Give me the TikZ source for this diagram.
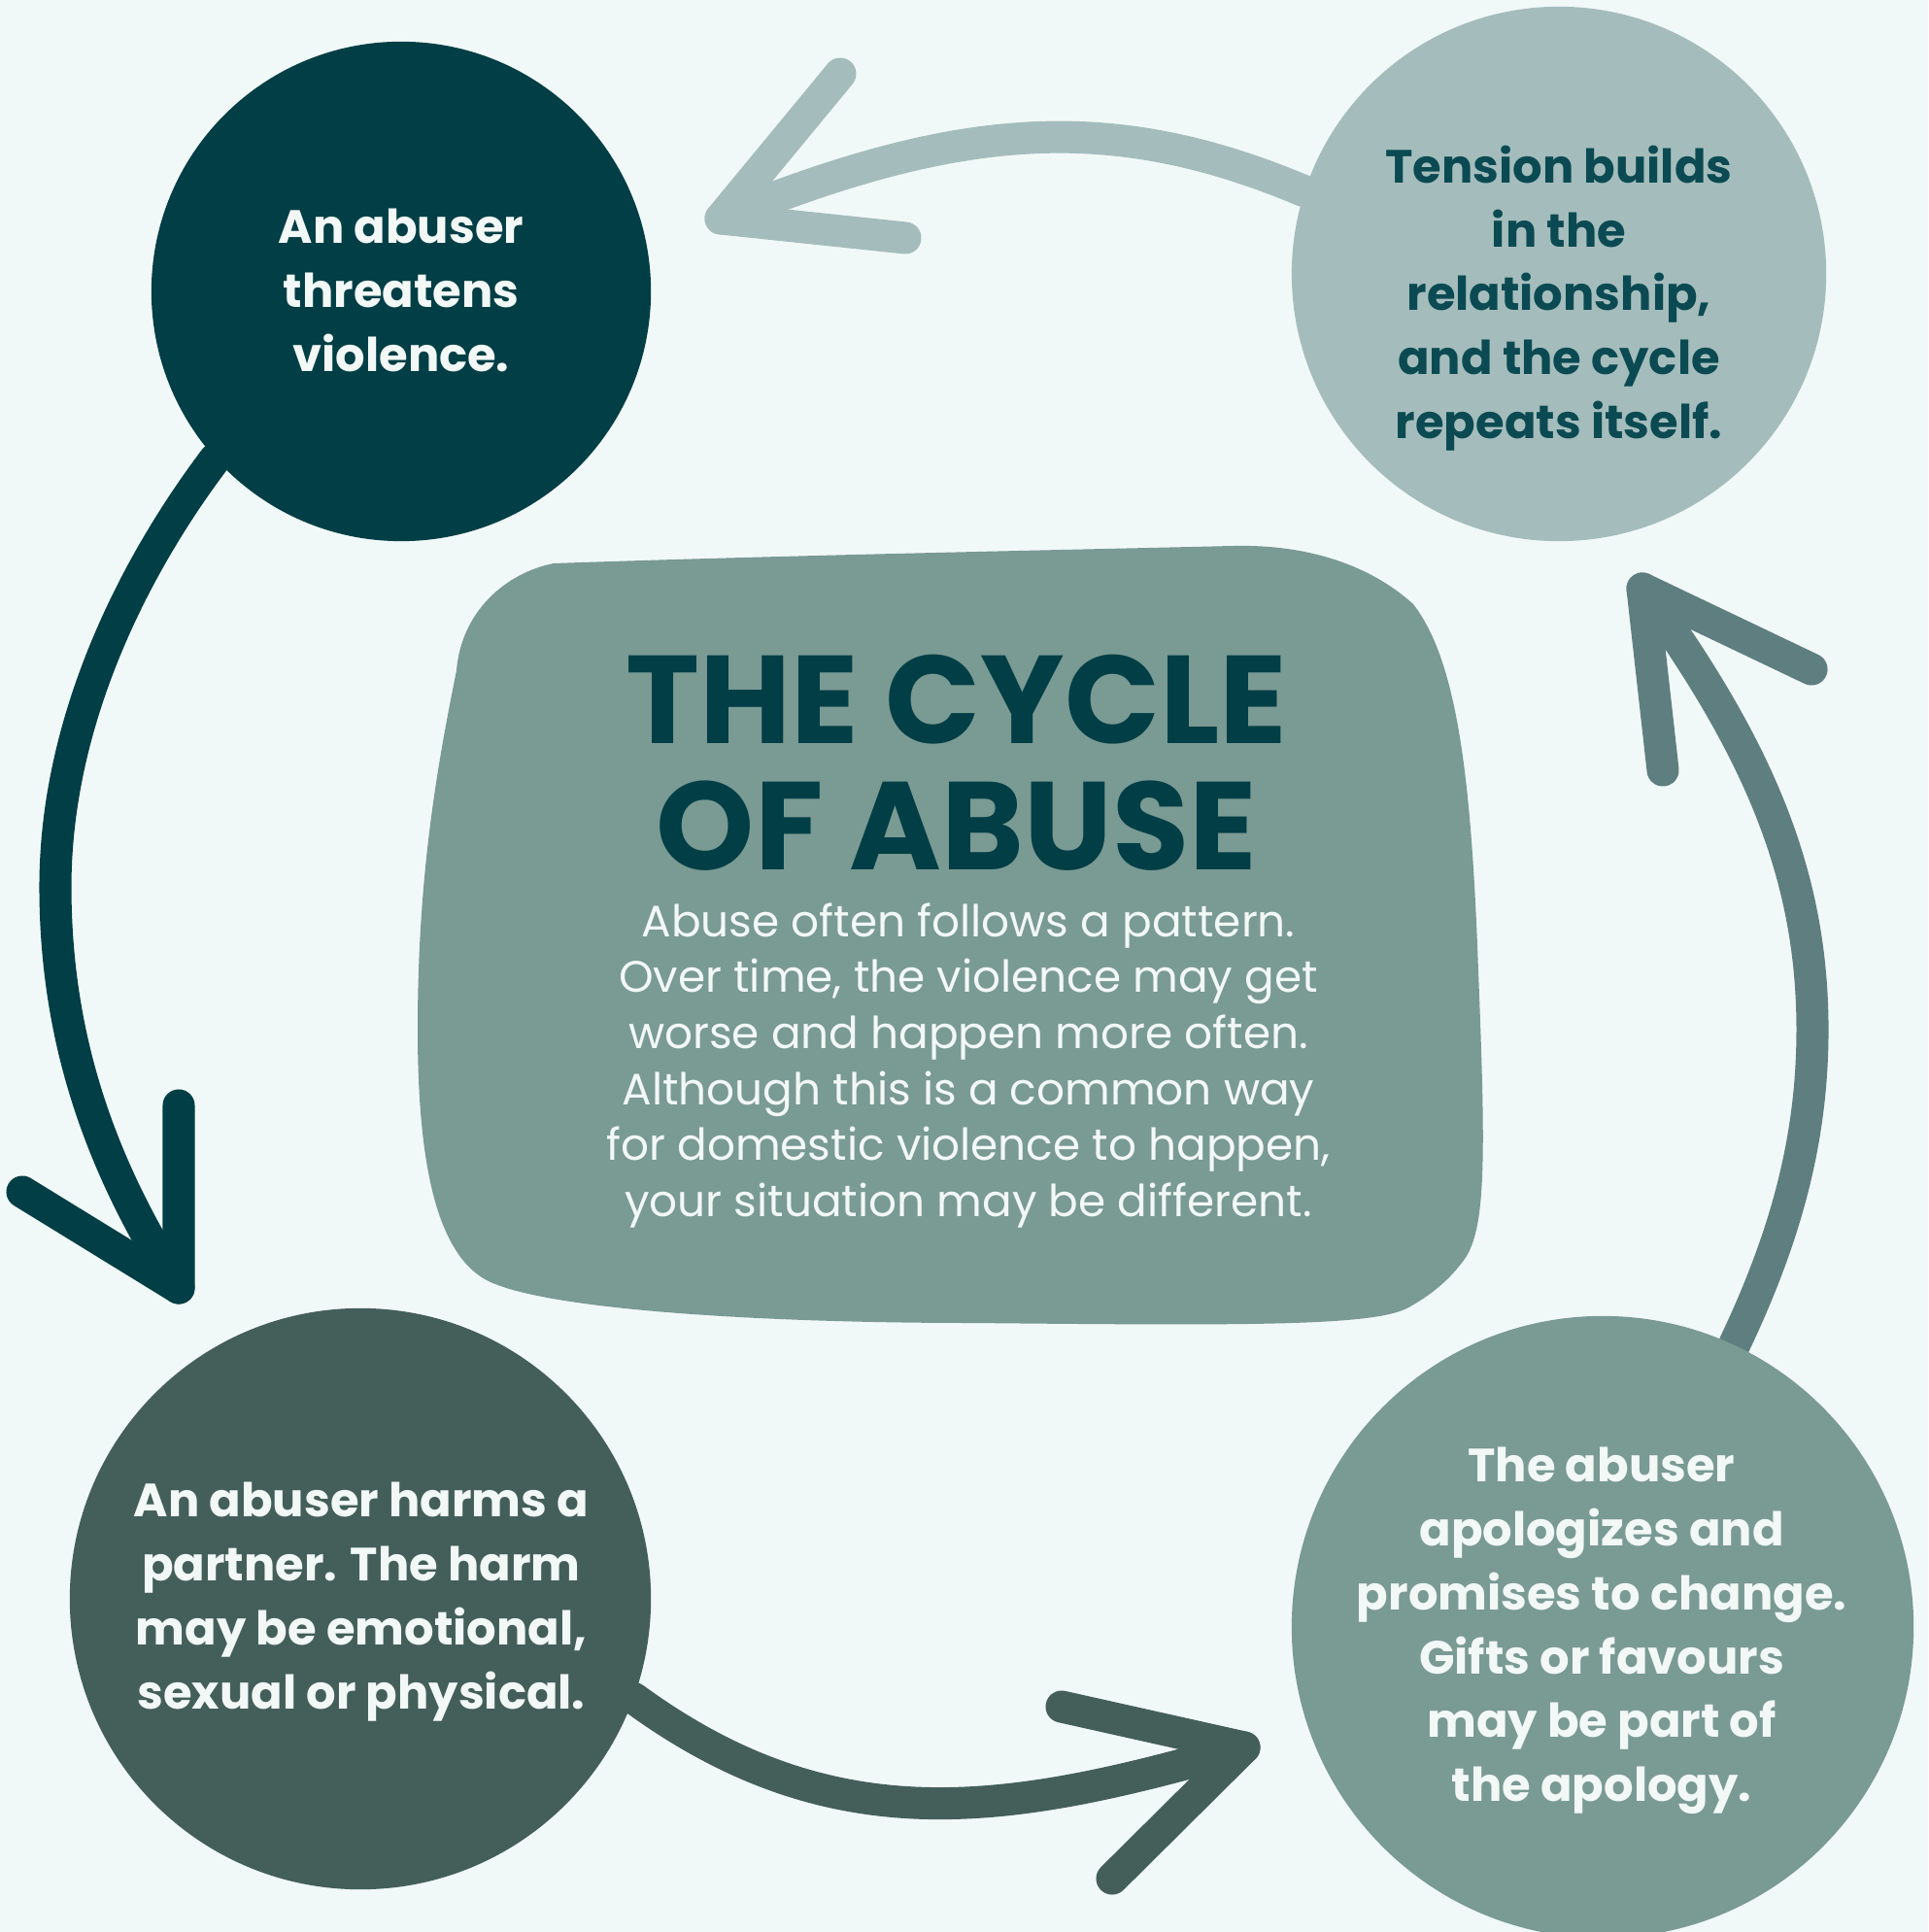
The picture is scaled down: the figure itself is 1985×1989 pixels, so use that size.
\documentclass[tikz,border=0pt]{standalone}
\usepackage{fontspec}
\setmainfont{Poppins}
\usetikzlibrary{positioning, calc, backgrounds}
\definecolor{BgMint}{HTML}{F1F9F8}
\definecolor{DeepTeal}{HTML}{023E45}
\definecolor{PaleSage}{HTML}{A4BDBC}
\definecolor{SlateGreen}{HTML}{445F5A}
\definecolor{Sage}{HTML}{7A9A94}
\definecolor{SteelTeal}{HTML}{5F7E80}
\definecolor{InkTeal}{HTML}{0B4A52}
\definecolor{SoftWhite}{HTML}{F2F8F6}
\tikzset{
  phase/.style={circle, inner sep=0pt},
  phasetext/.style={align=center, inner sep=0pt,
                    font=\fontsize{13.65}{18.7}\selectfont\bfseries},
  cyclearrow/.style={line width=9.4pt, line cap=round, line join=round},
}

\begin{document}
\begin{tikzpicture}[x=0.01cm, y=-0.01cm]
\useasboundingbox (0,0) rectangle (1985,1989);

% central blob
\fill[Sage] (470,690) .. controls (475,630) and (520,590) .. (570,580)
  .. controls (800,572) and (1100,566) .. (1270,562)
  .. controls (1360,560) and (1420,590) .. (1455,622)
  .. controls (1500,680) and (1515,800) .. (1522,1000)
  .. controls (1530,1200) and (1530,1270) .. (1505,1300)
  .. controls (1490,1320) and (1470,1335) .. (1452,1345)
  .. controls (1420,1365) and (1300,1365) .. (1000,1362)
  .. controls (800,1362) and (580,1350) .. (510,1322)
  .. controls (450,1300) and (430,1200) .. (430,1060)
  .. controls (430,900) and (450,790) .. (470,690) -- cycle;
\node[text=DeepTeal, align=center, inner sep=0pt,
      font=\fontsize{36.6}{37}\selectfont\bfseries] (title) at (985,785)
      {THE CYCLE\\OF ABUSE};
\node[text=SoftWhite, align=center, inner sep=0pt,
      font=\fontsize{12.9}{16.4}\selectfont] (about) at (997,1097)
      {Abuse often follows a pattern.\\Over time, the violence may get\\
       worse and happen more often.\\Although this is a common way\\
       for domestic violence to happen,\\your situation may be different.};

% the four phases
\node[phase, fill=DeepTeal, minimum size=5.14cm] (threat) at (413,300) {};
\node[phasetext, text=SoftWhite] (threatlbl) at (413,299)
      {An abuser\\threatens\\violence.};
\node[phase, fill=SlateGreen, minimum size=5.98cm] (harm) at (371,1646) {};
\node[phasetext, text=SoftWhite] (harmlbl) at (372,1649)
      {An abuser harms a\\partner. The harm\\may be emotional,\\sexual or physical.};
\node[phase, fill=Sage, minimum size=6.4cm] (apology) at (1650,1675) {};
\node[phasetext, text=SoftWhite] (apologylbl) at (1649,1679)
      {The abuser\\apologizes and\\promises to change.\\Gifts or favours\\may be part of\\the apology.};
\node[phase, fill=PaleSage, minimum size=5.5cm] (tension) at (1605,282) {};
\node[phasetext, text=InkTeal] (tensionlbl) at (1605,307)
      {Tension builds\\in the\\relationship,\\and the cycle\\repeats itself.};

\coordinate (tipA) at (742,225);
\coordinate (tipB) at (184,1326);
\coordinate (tipC) at (1281,1799);
\coordinate (tipD) at (1691,606);

\begin{scope}[on background layer]
\fill[BgMint] (0,0) rectangle (1985,1989);
\draw[cyclearrow, PaleSage] (tension.162) .. controls (1144,113) and (987,125) .. (tipA);
\draw[cyclearrow, PaleSage] (tipA) ++(123,-149) -- (tipA) -- ++(190,20);
\draw[cyclearrow, DeepTeal] (threat.222) .. controls (140,580) and (57,740) .. (57,913)
  .. controls (57,1080) and (110,1210) .. (tipB);
\draw[cyclearrow, DeepTeal] (tipB) ++(0,-188) -- (tipB) -- ++(-161,-99);
\draw[cyclearrow, SlateGreen] (harm.-20) .. controls (860,1900) and (1041,1868) .. (tipC);
\draw[cyclearrow, SlateGreen] (tipC) ++(-188,-42) -- (tipC) -- ++(-136,135);
\draw[cyclearrow, SteelTeal] (apology.65) .. controls (1840,1270) and (1866,1170) .. (1866,1060)
  .. controls (1866,900) and (1810,770) .. (tipD);
\draw[cyclearrow, SteelTeal] (tipD) ++(21,187) -- (tipD) -- ++(174,83);
\end{scope}
\end{tikzpicture}
\end{document}
